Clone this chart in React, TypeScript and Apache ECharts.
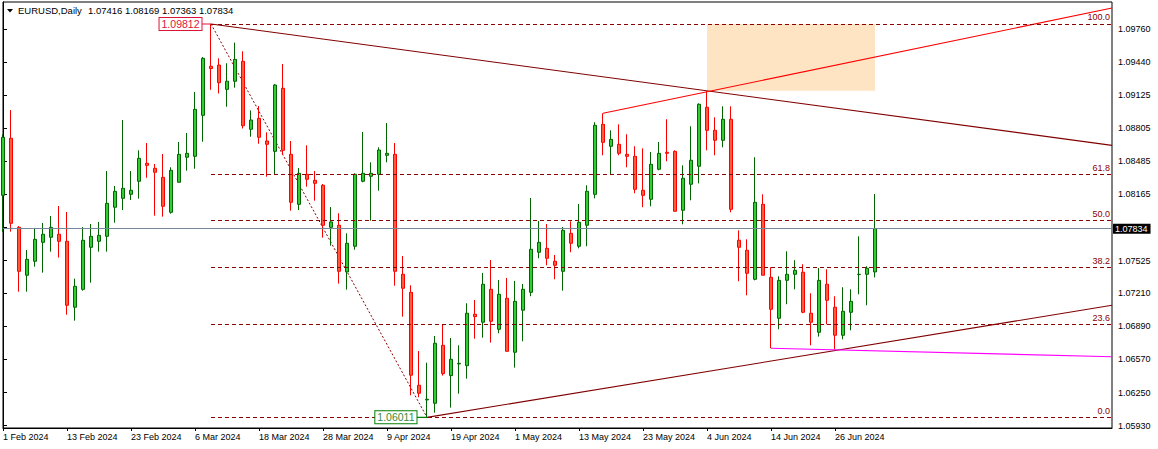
import React, { useEffect, useRef } from 'react';
import * as echarts from 'echarts';

const symbolName = 'EURUSD,Daily';

// daily bars: [open, high, low, close]
const ohlc: number[][] = [
  [1.08156, 1.08746, 1.07802, 1.08717],
  [1.08707, 1.08980, 1.07805, 1.07886],
  [1.07847, 1.07860, 1.07225, 1.07422],
  [1.07384, 1.07628, 1.07225, 1.07538],
  [1.07519, 1.07841, 1.07467, 1.07731],
  [1.07702, 1.07889, 1.07409, 1.07780],
  [1.07751, 1.07956, 1.07612, 1.07847],
  [1.07780, 1.08053, 1.07554, 1.07712],
  [1.07712, 1.07995, 1.07003, 1.07094],
  [1.07075, 1.07351, 1.06945, 1.07277],
  [1.07248, 1.07850, 1.07235, 1.07722],
  [1.07654, 1.07879, 1.07312, 1.07760],
  [1.07712, 1.07899, 1.07612, 1.07770],
  [1.07760, 1.08391, 1.07612, 1.08079],
  [1.08041, 1.08246, 1.07892, 1.08195],
  [1.08127, 1.08884, 1.08014, 1.08224],
  [1.08166, 1.08391, 1.08111, 1.08205],
  [1.08292, 1.08591, 1.08124, 1.08514],
  [1.08466, 1.08662, 1.08326, 1.08446],
  [1.08417, 1.08459, 1.07959, 1.08379],
  [1.08330, 1.08555, 1.07950, 1.08050],
  [1.07992, 1.08427, 1.07979, 1.08398],
  [1.08282, 1.08671, 1.08282, 1.08552],
  [1.08524, 1.08758, 1.08394, 1.08562],
  [1.08533, 1.09154, 1.08413, 1.08987],
  [1.08929, 1.09492, 1.08674, 1.09480],
  [1.09403, 1.09812, 1.09176, 1.09381],
  [1.09415, 1.09480, 1.09140, 1.09244],
  [1.09180, 1.09432, 1.09012, 1.09259],
  [1.09258, 1.09632, 1.09196, 1.09470],
  [1.09451, 1.09548, 1.08802, 1.08829],
  [1.08794, 1.08976, 1.08722, 1.08884],
  [1.08900, 1.09019, 1.08654, 1.08717],
  [1.08681, 1.08765, 1.08336, 1.08649],
  [1.08581, 1.09232, 1.08355, 1.09222],
  [1.09190, 1.09425, 1.08546, 1.08591],
  [1.08552, 1.08681, 1.08008, 1.08089],
  [1.08069, 1.08420, 1.08014, 1.08369],
  [1.08359, 1.08639, 1.08240, 1.08311],
  [1.08301, 1.08391, 1.08104, 1.08272],
  [1.08253, 1.08266, 1.07747, 1.07867],
  [1.07847, 1.08043, 1.07670, 1.07899],
  [1.07867, 1.07983, 1.07303, 1.07422],
  [1.07416, 1.07789, 1.07245, 1.07693],
  [1.07664, 1.08369, 1.07631, 1.08359],
  [1.08292, 1.08768, 1.08282, 1.08369],
  [1.08340, 1.08475, 1.07911, 1.08369],
  [1.08359, 1.08620, 1.08201, 1.08594],
  [1.08543, 1.08855, 1.08475, 1.08562],
  [1.08552, 1.08662, 1.07283, 1.07422],
  [1.07393, 1.07570, 1.06984, 1.07258],
  [1.07219, 1.07287, 1.06224, 1.06418],
  [1.06321, 1.06652, 1.06205, 1.06244],
  [1.06179, 1.06539, 1.06011, 1.06186],
  [1.06147, 1.06797, 1.06056, 1.06727],
  [1.06707, 1.06904, 1.06414, 1.06433],
  [1.06414, 1.06778, 1.06105, 1.06572],
  [1.06527, 1.06707, 1.06240, 1.06533],
  [1.06510, 1.07113, 1.06385, 1.07017],
  [1.07007, 1.07145, 1.06771, 1.06984],
  [1.06930, 1.07406, 1.06781, 1.07297],
  [1.07248, 1.07531, 1.06733, 1.06939],
  [1.06862, 1.07338, 1.06823, 1.07200],
  [1.07161, 1.07358, 1.06649, 1.06649],
  [1.06640, 1.07329, 1.06491, 1.07132],
  [1.07046, 1.07300, 1.06746, 1.07248],
  [1.07219, 1.08130, 1.07181, 1.07635],
  [1.07606, 1.07908, 1.07548, 1.07702],
  [1.07644, 1.07879, 1.07480, 1.07548],
  [1.07519, 1.07580, 1.07345, 1.07480],
  [1.07422, 1.07850, 1.07235, 1.07818],
  [1.07789, 1.07905, 1.07606, 1.07693],
  [1.07664, 1.08072, 1.07644, 1.07896],
  [1.07867, 1.08253, 1.07664, 1.08195],
  [1.08166, 1.08862, 1.08127, 1.08833],
  [1.08842, 1.08949, 1.08543, 1.08668],
  [1.08630, 1.08784, 1.08359, 1.08697],
  [1.08649, 1.08842, 1.08543, 1.08562],
  [1.08552, 1.08746, 1.08427, 1.08533],
  [1.08533, 1.08630, 1.08176, 1.08214],
  [1.08205, 1.08610, 1.08041, 1.08156],
  [1.08118, 1.08575, 1.08050, 1.08456],
  [1.08408, 1.08671, 1.08398, 1.08562],
  [1.08572, 1.08891, 1.08485, 1.08562],
  [1.08581, 1.08591, 1.08002, 1.08002],
  [1.08012, 1.08446, 1.07876, 1.08321],
  [1.08263, 1.08823, 1.08108, 1.08495],
  [1.08437, 1.09045, 1.08272, 1.09036],
  [1.09007, 1.09159, 1.08591, 1.08784],
  [1.08784, 1.08910, 1.08543, 1.08688],
  [1.08688, 1.09016, 1.08620, 1.08891],
  [1.08891, 1.09016, 1.07992, 1.08021],
  [1.07722, 1.07818, 1.07326, 1.07654],
  [1.07625, 1.07731, 1.07190, 1.07403],
  [1.07345, 1.08524, 1.07335, 1.08089],
  [1.08069, 1.08166, 1.07384, 1.07384],
  [1.07364, 1.07461, 1.06678, 1.07055],
  [1.06968, 1.07374, 1.06862, 1.07335],
  [1.07335, 1.07615, 1.07104, 1.07393],
  [1.07393, 1.07529, 1.07248, 1.07432],
  [1.07413, 1.07490, 1.07017, 1.07026],
  [1.07017, 1.07210, 1.06707, 1.06930],
  [1.06833, 1.07454, 1.06791, 1.07335],
  [1.07297, 1.07442, 1.06910, 1.07142],
  [1.07075, 1.07181, 1.06669, 1.06804],
  [1.06804, 1.07268, 1.06765, 1.07036],
  [1.07026, 1.07248, 1.06852, 1.07132],
  [1.07390, 1.07760, 1.07200, 1.07393],
  [1.07393, 1.07471, 1.07094, 1.07451],
  [1.07416, 1.08169, 1.07363, 1.07834],
];

const dateLabels = [
  '1 Feb 2024', '13 Feb 2024', '23 Feb 2024', '6 Mar 2024', '18 Mar 2024',
  '28 Mar 2024', '9 Apr 2024', '19 Apr 2024', '1 May 2024', '13 May 2024',
  '23 May 2024', '4 Jun 2024', '14 Jun 2024', '26 Jun 2024',
];
const barsPerDateLabel = 8;

const priceTicks = [1.05930, 1.06250, 1.06570, 1.06890, 1.07210, 1.07525, 1.07845,
  1.08165, 1.08485, 1.08805, 1.09125, 1.09440, 1.09760];
const priceLabels = [1.05930, 1.06250, 1.06570, 1.06890, 1.07210, 1.07525,
  1.08165, 1.08485, 1.08805, 1.09125, 1.09440, 1.09760];

const bidPrice = 1.07834;
const fibHigh = [26, 1.09812];
const fibLow = [53, 1.06011];
const fibLevels = [0, 23.6, 38.2, 50, 61.8, 100];

const X_MAX = 138.625;
const Y_MIN = 1.05908;
const Y_MAX = 1.10024;

const upperTrend = [[26, 1.09812], [X_MAX, 1.08639]];
const lowerTrend = [[53, 1.06011], [X_MAX, 1.07094]];
const redTrend = [[75, 1.08949], [X_MAX, 1.09966]];
const magentaLine = [[96, 1.06678], [X_MAX, 1.06597]];
const zoneRect = [[88, 1.09812], [109, 1.09167]];
const highTag = [[24.875, 1.09812], [26, 1.09812]];
const lowTag = [[51.75, 1.06011], [53, 1.06011]];

const FONT = '"Liberation Sans", Arial, sans-serif';

export default function App() {
  const ref = useRef<HTMLDivElement>(null);
  useEffect(() => {
    if (!ref.current) return;
    const chart = echarts.init(ref.current, undefined, { renderer: 'svg' });
    const last = ohlc[ohlc.length - 1];
    const headerValues = last.map((v) => v.toFixed(5)).join(' ');
    const fibRange = fibHigh[1] - fibLow[1];
    const dark = '#8B0000';

    const fibLines = fibLevels.map((lvl) => {
      const p = fibLow[1] + (fibRange * lvl) / 100;
      return [
        {
          coord: [fibHigh[0], p],
          lineStyle: { color: dark, type: [4, 3], width: 1 },
          label: {
            show: true,
            position: 'insideEndTop',
            formatter: lvl.toFixed(1),
            color: dark,
            fontSize: 9,
            fontFamily: FONT,
            distance: [2, 2],
          },
        },
        { coord: [X_MAX, p] },
      ];
    });

    const lineSeries = (data: number[][], color: string, z: number, extra: any = {}) => ({
      type: 'line',
      data,
      symbol: 'none',
      silent: true,
      z,
      lineStyle: { color, width: 1.1 },
      ...extra,
    });

    chart.setOption({
      animation: false,
      backgroundColor: '#fff',
      grid: {
        left: 3, top: 2, width: 1109, height: 426,
        show: true, borderColor: '#000', borderWidth: 1, backgroundColor: 'transparent',
      },
      xAxis: {
        type: 'value',
        min: 0,
        max: X_MAX,
        interval: barsPerDateLabel,
        splitLine: { show: false },
        axisLine: { show: true, lineStyle: { color: '#000' } },
        axisTick: {
          show: true, length: 3, lineStyle: { color: '#000' },
          customValues: dateLabels.map((_, i) => i * barsPerDateLabel),
        },
        axisLabel: {
          customValues: dateLabels.map((_, i) => i * barsPerDateLabel),
          formatter: (v: number) => dateLabels[Math.round(v / barsPerDateLabel)] ?? '',
          align: 'left',
          margin: 4,
          color: '#000',
          fontSize: 9,
          fontFamily: FONT,
        },
      },
      yAxis: {
        type: 'value',
        position: 'right',
        min: Y_MIN,
        max: Y_MAX,
        scale: true,
        splitLine: { show: false },
        axisLine: { show: true, lineStyle: { color: '#000' } },
        axisTick: { show: true, length: 4, lineStyle: { color: '#000' }, customValues: priceTicks },
        axisLabel: {
          customValues: priceLabels,
          formatter: (v: number) => v.toFixed(5),
          margin: 6,
          color: '#000',
          fontSize: 9,
          fontFamily: FONT,
        },
      },
      graphic: [
        { type: 'polygon', shape: { points: [[7, 9], [13, 9], [10, 12.5]] }, style: { fill: '#000' } },
        {
          type: 'text', x: 18, y: 10.5,
          style: { text: symbolName, fontSize: 9.5, fontFamily: FONT, fill: '#000', verticalAlign: 'middle' },
        },
        {
          type: 'text', x: 88, y: 10.5,
          style: { text: headerValues, fontSize: 9.5, fontFamily: FONT, fill: '#000', verticalAlign: 'middle' },
        },
      ],
      series: [
        {
          type: 'line',
          data: [],
          silent: true,
          z: 1,
          markArea: {
            silent: true,
            itemStyle: { color: '#FFE4C4' },
            data: [[{ coord: zoneRect[0] }, { coord: zoneRect[1] }]],
          },
        },
        lineSeries([fibHigh, fibLow], dark, 2, {
          lineStyle: { color: dark, width: 1, type: [2, 2] },
          markLine: {
            silent: true,
            precision: 5,
            symbol: ['none', 'none'],
            data: [
              ...fibLines,
              {
                yAxis: bidPrice,
                lineStyle: { color: '#778899', type: 'solid', width: 1 },
                label: {
                  show: true,
                  position: 'end',
                  formatter: bidPrice.toFixed(5),
                  color: '#fff',
                  backgroundColor: '#000',
                  padding: [1, 3, 0, 2],
                  fontSize: 9,
                  fontFamily: FONT,
                  distance: 1,
                },
              },
            ],
          },
        }),
        {
          type: 'candlestick',
          z: 3,
          barWidth: 4,
          data: ohlc.map((r, i) => [i, r[0], r[3], r[2], r[1]]),
          itemStyle: {
            color: '#32CD32',
            color0: '#FF5A3C',
            borderColor: '#006400',
            borderColor0: '#FF0000',
            borderWidth: 1,
          },
        },
        lineSeries(upperTrend, '#800000', 4),
        lineSeries(lowerTrend, '#800000', 4),
        lineSeries(redTrend, '#FF0000', 4),
        lineSeries(magentaLine, '#FF00FF', 4),
        lineSeries(highTag, '#DC143C', 5, {
          markPoint: {
            silent: true,
            symbol: 'circle',
            symbolSize: 1,
            itemStyle: { color: 'rgba(0,0,0,0)' },
            data: [{ coord: highTag[0] }],
            label: {
              show: true, position: 'left', distance: 0,
              formatter: fibHigh[1].toFixed(5),
              color: '#DC143C', fontSize: 10.5, fontFamily: FONT,
              backgroundColor: '#fff', borderColor: '#DC143C', borderWidth: 1, padding: [1, 2, 0, 2],
            },
          },
        }),
        lineSeries(lowTag, '#008000', 5, {
          markPoint: {
            silent: true,
            symbol: 'circle',
            symbolSize: 1,
            itemStyle: { color: 'rgba(0,0,0,0)' },
            data: [{ coord: lowTag[0] }],
            label: {
              show: true, position: 'left', distance: 0,
              formatter: fibLow[1].toFixed(5),
              color: '#3A8A3A', fontSize: 10.5, fontFamily: FONT,
              backgroundColor: '#fff', borderColor: '#008000', borderWidth: 1, padding: [1, 2, 0, 2],
            },
          },
        }),
      ],
    });
    return () => chart.dispose();
  }, []);
  return (
    <div
      ref={ref}
      style={{ position: 'fixed', left: 0, top: 0, width: 1158, height: 449, background: '#fff' }}
    />
  );
}
